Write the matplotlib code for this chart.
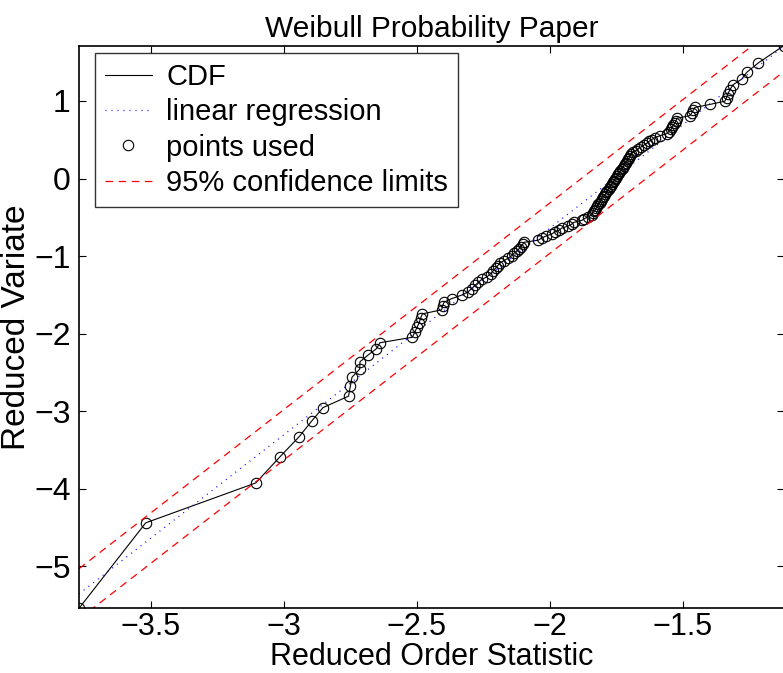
import numpy as np
import matplotlib
matplotlib.use('Agg')
import matplotlib.pyplot as plt

plt.rcParams['font.family'] = ['Liberation Sans', 'DejaVu Sans']

# Sorted log-sample (reduced order statistic), 128 observations
log_sample = [
    -3.771, -3.520, -3.106, -3.014, -2.943, -2.895, -2.853, -2.757, -2.750, -2.744,
    -2.715, -2.714, -2.683, -2.652, -2.639, -2.517, -2.508, -2.499, -2.491, -2.486,
    -2.479, -2.407, -2.403, -2.398, -2.369, -2.332, -2.307, -2.294, -2.282, -2.269,
    -2.256, -2.235, -2.223, -2.213, -2.204, -2.196, -2.188, -2.173, -2.156, -2.144,
    -2.135, -2.125, -2.116, -2.110, -2.102, -2.097, -2.043, -2.031, -2.014, -1.993,
    -1.981, -1.964, -1.955, -1.931, -1.918, -1.909, -1.880, -1.870, -1.855, -1.842,
    -1.839, -1.834, -1.829, -1.825, -1.821, -1.817, -1.812, -1.808, -1.804, -1.800,
    -1.795, -1.791, -1.787, -1.783, -1.779, -1.775, -1.771, -1.767, -1.763, -1.759,
    -1.754, -1.750, -1.747, -1.742, -1.738, -1.734, -1.730, -1.726, -1.722, -1.718,
    -1.714, -1.710, -1.705, -1.701, -1.697, -1.693, -1.688, -1.676, -1.667, -1.657,
    -1.646, -1.635, -1.627, -1.617, -1.604, -1.585, -1.560, -1.552, -1.544, -1.540,
    -1.535, -1.529, -1.525, -1.521, -1.473, -1.466, -1.461, -1.454, -1.397, -1.341,
    -1.335, -1.330, -1.322, -1.311, -1.278, -1.259, -1.215, -1.120,
]

# fitted line  y = slope * x + intercept, and half-width of the 95% band
fit_slope = 2.663
fit_intercept = 4.685
conf_halfwidth = 0.325

x = np.sort(np.array(log_sample))
n = len(x)
prob = (np.arange(1, n + 1) - 0.5) / n
y = np.log(-np.log(1.0 - prob))

fig = plt.figure(figsize=(7.83, 6.73), dpi=100)
ax = fig.add_axes([0.1009, 0.0961, 0.9, 0.836])

xl = np.array([x.min(), x.max()])
yfit = fit_slope * xl + fit_intercept

ax.plot(x, y, color='k', lw=0.8, label='CDF')
ax.plot(xl, yfit, color='b', lw=0.9, linestyle=(0, (0.8, 4)), label='linear regression')
ax.plot(x, y, 'o', mfc='none', mec='k', ms=7.5, mew=0.8, label='points used')
ax.plot(xl, yfit + conf_halfwidth, color='r', lw=0.9, dashes=(6, 4.5),
        label='95% confidence limits')
ax.plot(xl, yfit - conf_halfwidth, color='r', lw=0.9, dashes=(6, 4.5))

ax.set_xlim(x.min(), x.max())
ax.set_ylim(y.min(), y.max())
ax.set_xticks([-3.5, -3, -2.5, -2, -1.5])
ax.set_xticklabels(['\u22123.5', '\u22123', '\u22122.5', '\u22122', '\u22121.5'])
ax.set_yticks([-5, -4, -3, -2, -1, 0, 1])

ax.tick_params(direction='in', length=5, width=0.8, top=True, right=True)
ax.tick_params(axis='y', labelsize=23, pad=6)
ax.tick_params(axis='x', labelsize=22, pad=2.5)
for s in ax.spines.values():
    s.set_linewidth(1.2)

ax.set_xlabel('Reduced Order Statistic', fontsize=22)
ax.xaxis.set_label_coords(0.5, -0.059)
ax.set_ylabel('Reduced Variate', fontsize=24)
ax.yaxis.set_label_coords(-0.066, 0.5)
ax.set_title('Weibull Probability Paper', fontsize=21.5, pad=6)

leg = ax.legend(loc='upper left', bbox_to_anchor=(0.0227, 0.987), borderaxespad=0,
                fontsize=21, frameon=True, fancybox=False, handlelength=1.6,
                handletextpad=0.5, labelspacing=0.25, borderpad=0.34)
leg.get_frame().set_edgecolor('k')
leg.get_frame().set_linewidth(1.0)

fig.savefig('out.png', dpi=100)
